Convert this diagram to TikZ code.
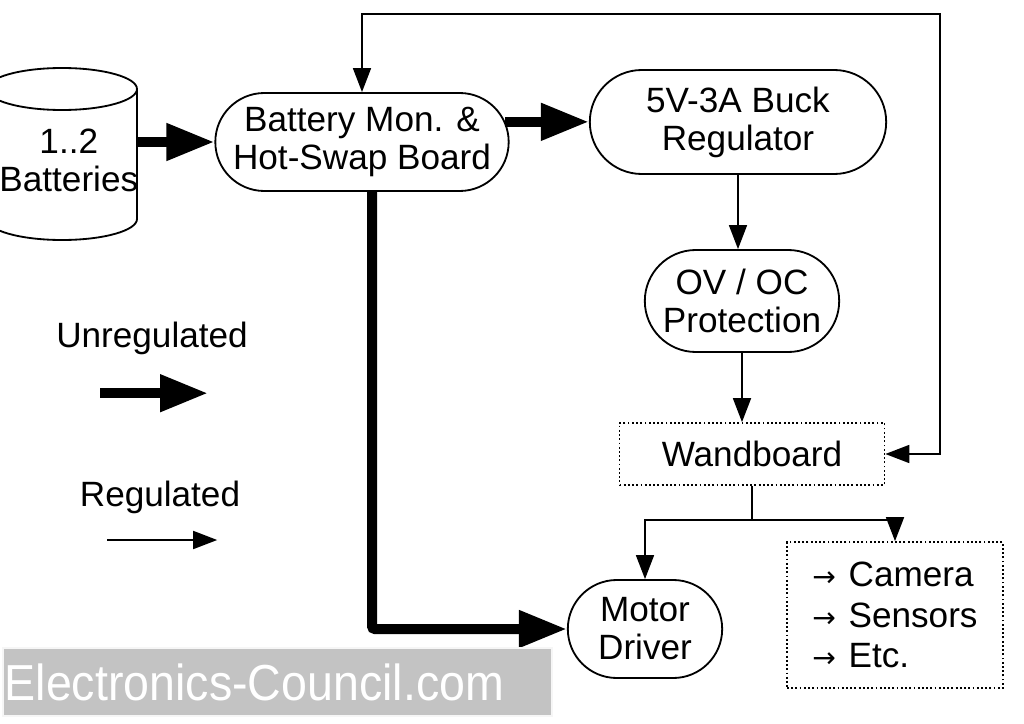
\documentclass[tikz,border=0pt]{standalone}
\usepackage{fontspec}
\setmainfont{Liberation Sans}
\newfontfamily\arrowfont{DejaVu Sans}
\usepackage{xcolor}
\usepackage{tikz}
\usetikzlibrary{arrows.meta, positioning, calc, shapes.misc}
\definecolor{markgray}{RGB}{195,195,195}
\newcommand{\smallarrow}{{\arrowfont\fontsize{20}{20}\selectfont →}\hspace{9pt}}

\begin{document}
\begin{tikzpicture}[
    font=\fontsize{25}{27}\selectfont,
    stadium/.style={draw, rounded rectangle, line width=1.3pt, align=center, inner sep=2pt},
    dotbox/.style={draw, dash pattern=on 1.3pt off 1.7pt, line width=1.2pt, inner sep=2pt},
    unreg/.style={line width=0.25cm, -{Triangle[length=1.2cm, width=0.88cm]}},
    reg/.style={line width=1.2pt, -{Triangle[length=0.6cm, width=0.45cm]}},
]
    \useasboundingbox (0,0) rectangle (25.6,-18.1);

    % battery pack
    \draw[line width=1.3pt] (-0.325,-2.225) -- (-0.325,-5.475)
        arc[start angle=180, end angle=360, x radius=1.875, y radius=0.525] -- (3.425,-2.225);
    \draw[line width=1.3pt] (1.55,-2.225) ellipse[x radius=1.875, y radius=0.525];
    \node[minimum width=3.75cm, align=center] (batt) at (1.55,-4.0) {};
    \node[align=center] (battlbl) at (1.72,-4.0) {1..2\\Batteries};

    % boards
    \node[stadium, minimum width=7.475cm, minimum height=2.45cm] (bmon) at (9.05,-3.55) {Battery Mon. \&\\Hot-Swap Board};
    \node[stadium, minimum width=7.55cm, minimum height=2.6cm] (buck) at (18.45,-3.05) {5V-3A Buck\\Regulator};
    \node[stadium, minimum width=5.0cm, minimum height=2.55cm] (ov) at (18.55,-7.525) {OV / OC\\Protection};
    \node[dotbox, minimum width=6.625cm, minimum height=1.55cm] (wand) at (18.8,-11.35) {Wandboard};
    \node[stadium, minimum width=4.0cm, minimum height=2.45cm] (motor) at (16.125,-15.725) {Motor\\Driver};
    \node[dotbox, align=left, minimum width=5.4cm, minimum height=3.65cm, font=\fontsize{25}{29}\selectfont] (periph) at (22.375,-15.375)
        {\smallarrow Camera\\\smallarrow Sensors\\\smallarrow Etc.};

    \coordinate (loop) at (23.5,-0.35);
    \coordinate (split) at (18.8,-13.0);

    % power paths
    \draw[unreg] (bmon.west -| batt.east) -- (bmon.west);
    \draw[unreg] (bmon.8) -- (bmon.8 -| buck.west);
    \draw[unreg, rounded corners=2pt] ([xshift=0.25cm]bmon.south) |- (motor.west);
    \draw[reg] (buck.south) -- (buck.south |- ov.north);
    \draw[reg] (ov.south) -- (ov.south |- wand.north);
    \draw[reg, {Triangle[length=0.6cm, width=0.45cm]}-{Triangle[length=0.6cm, width=0.45cm]}] (bmon.north) |- (loop) |- (wand.east);
    \draw[reg] (wand.south) -- (split) -| (motor.north);
    \draw[reg] (split) -| (periph.north);

    % legend
    \node (unreglbl) at (3.8,-8.45) {Unregulated};
    \coordinate (unregA) at (2.5,-9.83);
    \coordinate (unregB) at (5.2,-9.83);
    \draw[unreg] (unregA) -- (unregB);
    \node (reglbl) at (4.0,-12.43) {Regulated};
    \coordinate (regA) at (2.68,-13.5);
    \coordinate (regB) at (5.43,-13.5);
    \draw[reg] (regA) -- (regB);

    % watermark
    \node[fill=markgray, draw=white!85!markgray, line width=1pt, minimum width=13.725cm, minimum height=1.7cm, inner sep=0pt] (mark) at (6.94,-17.05) {};
    \node[anchor=west, inner sep=0pt, text=white, xscale=0.92, transform shape,
        font=\fontsize{36}{36}\selectfont] (marktext) at ([xshift=0.05cm]mark.west) {Electronics-Council.com};
\end{tikzpicture}
\end{document}
